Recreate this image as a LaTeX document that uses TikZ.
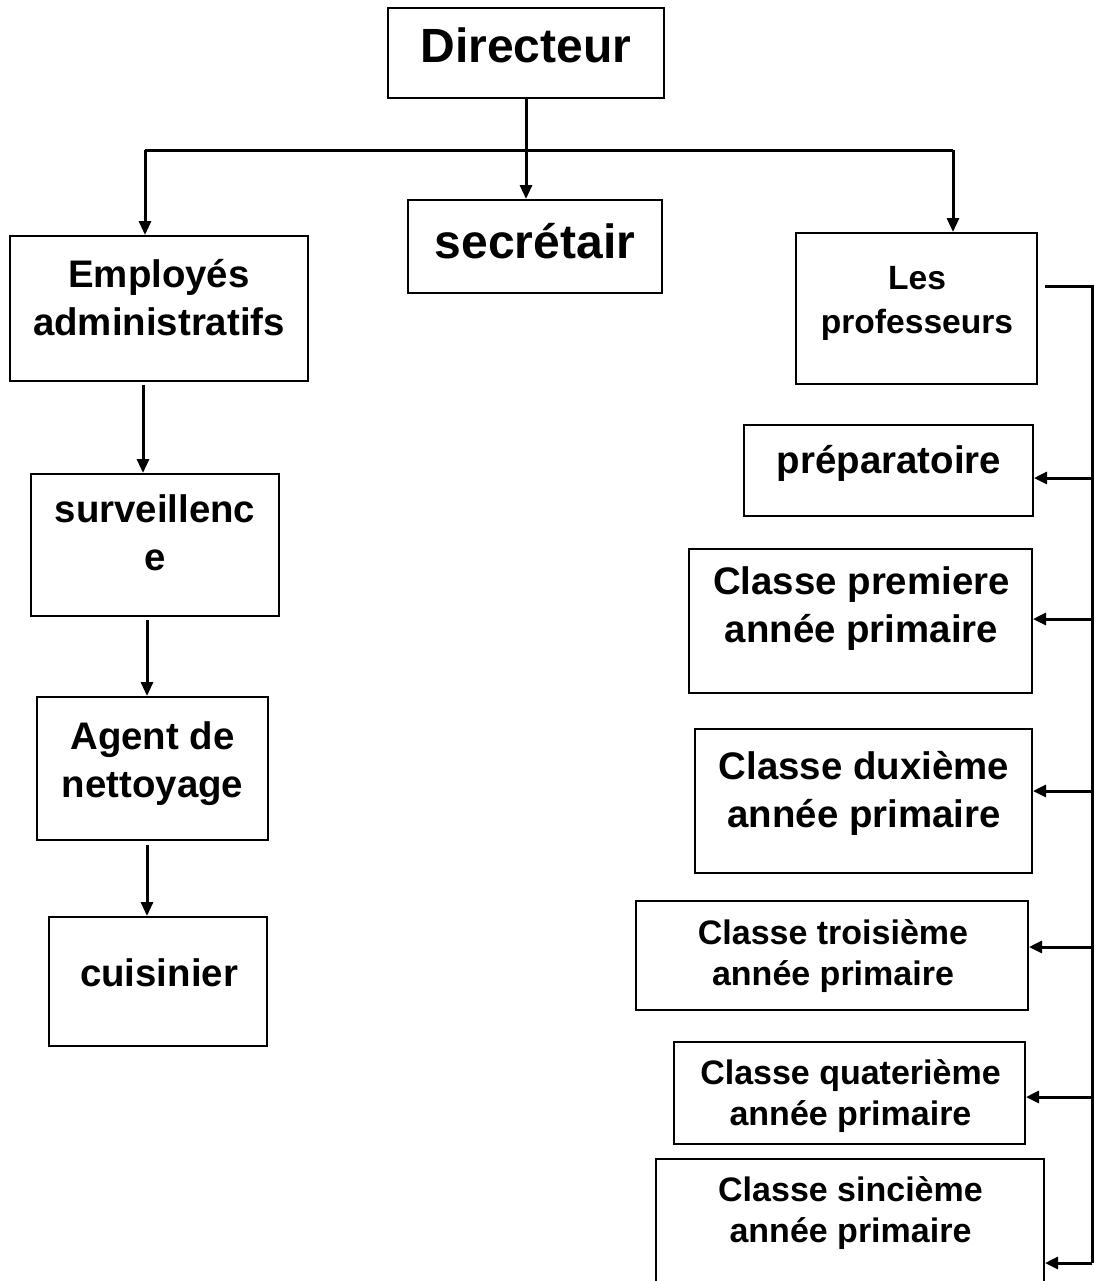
\documentclass[tikz,border=0pt]{standalone}
\usepackage{fontspec}
\setmainfont{Liberation Sans}
\usetikzlibrary{arrows.meta,fit}
\begin{document}
\begin{tikzpicture}[x=0.5pt,y=-0.5pt,
  box/.style={draw=black, line width=1pt, inner sep=0pt, fill=none},
  big/.style={font=\bfseries\fontsize{24}{28}\selectfont, inner sep=0pt, anchor=base},
  mid/.style={font=\bfseries\fontsize{19.2}{24}\selectfont, align=center, inner sep=0pt, anchor=base},
  sml/.style={font=\bfseries\fontsize{17}{20.5}\selectfont, align=center, inner sep=0pt, anchor=base},
  prf/.style={font=\bfseries\fontsize{16.8}{22}\selectfont, align=center, inner sep=0pt, anchor=base},
  link/.style={line width=1.5pt, draw=black},
  arr/.style={link, -{Triangle[length=7pt,width=6pt]}},
  harr/.style={link, -{Triangle[length=6.5pt,width=6pt]}}]
\useasboundingbox (0,0) rectangle (1095,1281);
\clip (0,0) rectangle (1095,1281);

% boxes
\node[box, fit={(388,8) (664,98)}] (dir) {};
\node[box, fit={(408,200) (662,293)}] (sec) {};
\node[box, fit={(10,236) (308,381)}] (emp) {};
\node[box, fit={(31,474) (279,616)}] (surv) {};
\node[box, fit={(37,697) (268,840)}] (agent) {};
\node[box, fit={(49,917) (267,1046)}] (cuis) {};
\node[box, fit={(796,233) (1037,384)}] (prof) {};
\node[box, fit={(744,425) (1033,516)}] (prep) {};
\node[box, fit={(689,549) (1032,693)}] (c1) {};
\node[box, fit={(695,729) (1032,873)}] (c2) {};
\node[box, fit={(636,901) (1028,1010)}] (c3) {};
\node[box, fit={(674,1042) (1025,1144)}] (c4) {};
\node[box, fit={(656,1159) (1044,1290)}] (c5) {};

% labels (anchored at the baseline of their last line)
\node[big] (tdir) at (526,62) {Directeur};
\node[big] (tsec) at (535,258) {secrétair};
\node[mid] (temp) at (159,335) {Employés\\administratifs};
\node[mid] (tsurv) at (155,570) {surveillenc\\e};
\node[mid] (tagent) at (152.5,797) {Agent de\\nettoyage};
\node[mid] (tcuis) at (159,986) {cuisinier};
\node[prf] (tprof) at (917,333) {Les\\professeurs};
\node[mid] (tprep) at (889,473) {préparatoire};
\node[mid] (tc1) at (861.5,642) {Classe premiere\\année primaire};
\node[mid] (tc2) at (864,827) {Classe duxième\\année primaire};
\node[sml] (tc3) at (833,985) {Classe troisième\\année primaire};
\node[sml] (tc4) at (850.5,1125) {Classe quaterième\\année primaire};
\node[sml] (tc5) at (850.5,1242) {Classe sincième\\année primaire};

% top branching
\coordinate (jL) at (145,150);
\coordinate (jR) at (953,150);
\draw[link] (jL) -- (jR);
\draw[arr] (dir.south) -- (dir.south |- sec.north);
\draw[arr] (jL) -- (jL |- emp.north);
\draw[arr] (jR) -- (jR |- prof.north);

% left chain
\coordinate (l1) at (143,385);
\coordinate (l2) at (147,620);
\coordinate (l3) at (147,845);
\draw[arr] (l1) -- (l1 |- surv.north);
\draw[arr] (l2) -- (l2 |- agent.north);
\draw[arr] (l3) -- (l3 |- cuis.north);

% right bus
\coordinate (p0) at (1045,286);
\coordinate (bus) at (1092,286);
\coordinate (b1) at (1092,478);
\coordinate (b2) at (1092,619);
\coordinate (b3) at (1092,791);
\coordinate (b4) at (1092,947);
\coordinate (b5) at (1092,1097);
\coordinate (b6) at (1092,1263);
\draw[link] (p0) -- (bus) -- (b6);
\draw[harr] (b1) -- (b1 -| prep.east);
\draw[harr] (b2) -- (b2 -| c1.east);
\draw[harr] (b3) -- (b3 -| c2.east);
\draw[harr] (b4) -- (b4 -| c3.east);
\draw[harr] (b5) -- (b5 -| c4.east);
\draw[harr] (b6) -- (b6 -| c5.east);
\end{tikzpicture}
\end{document}
